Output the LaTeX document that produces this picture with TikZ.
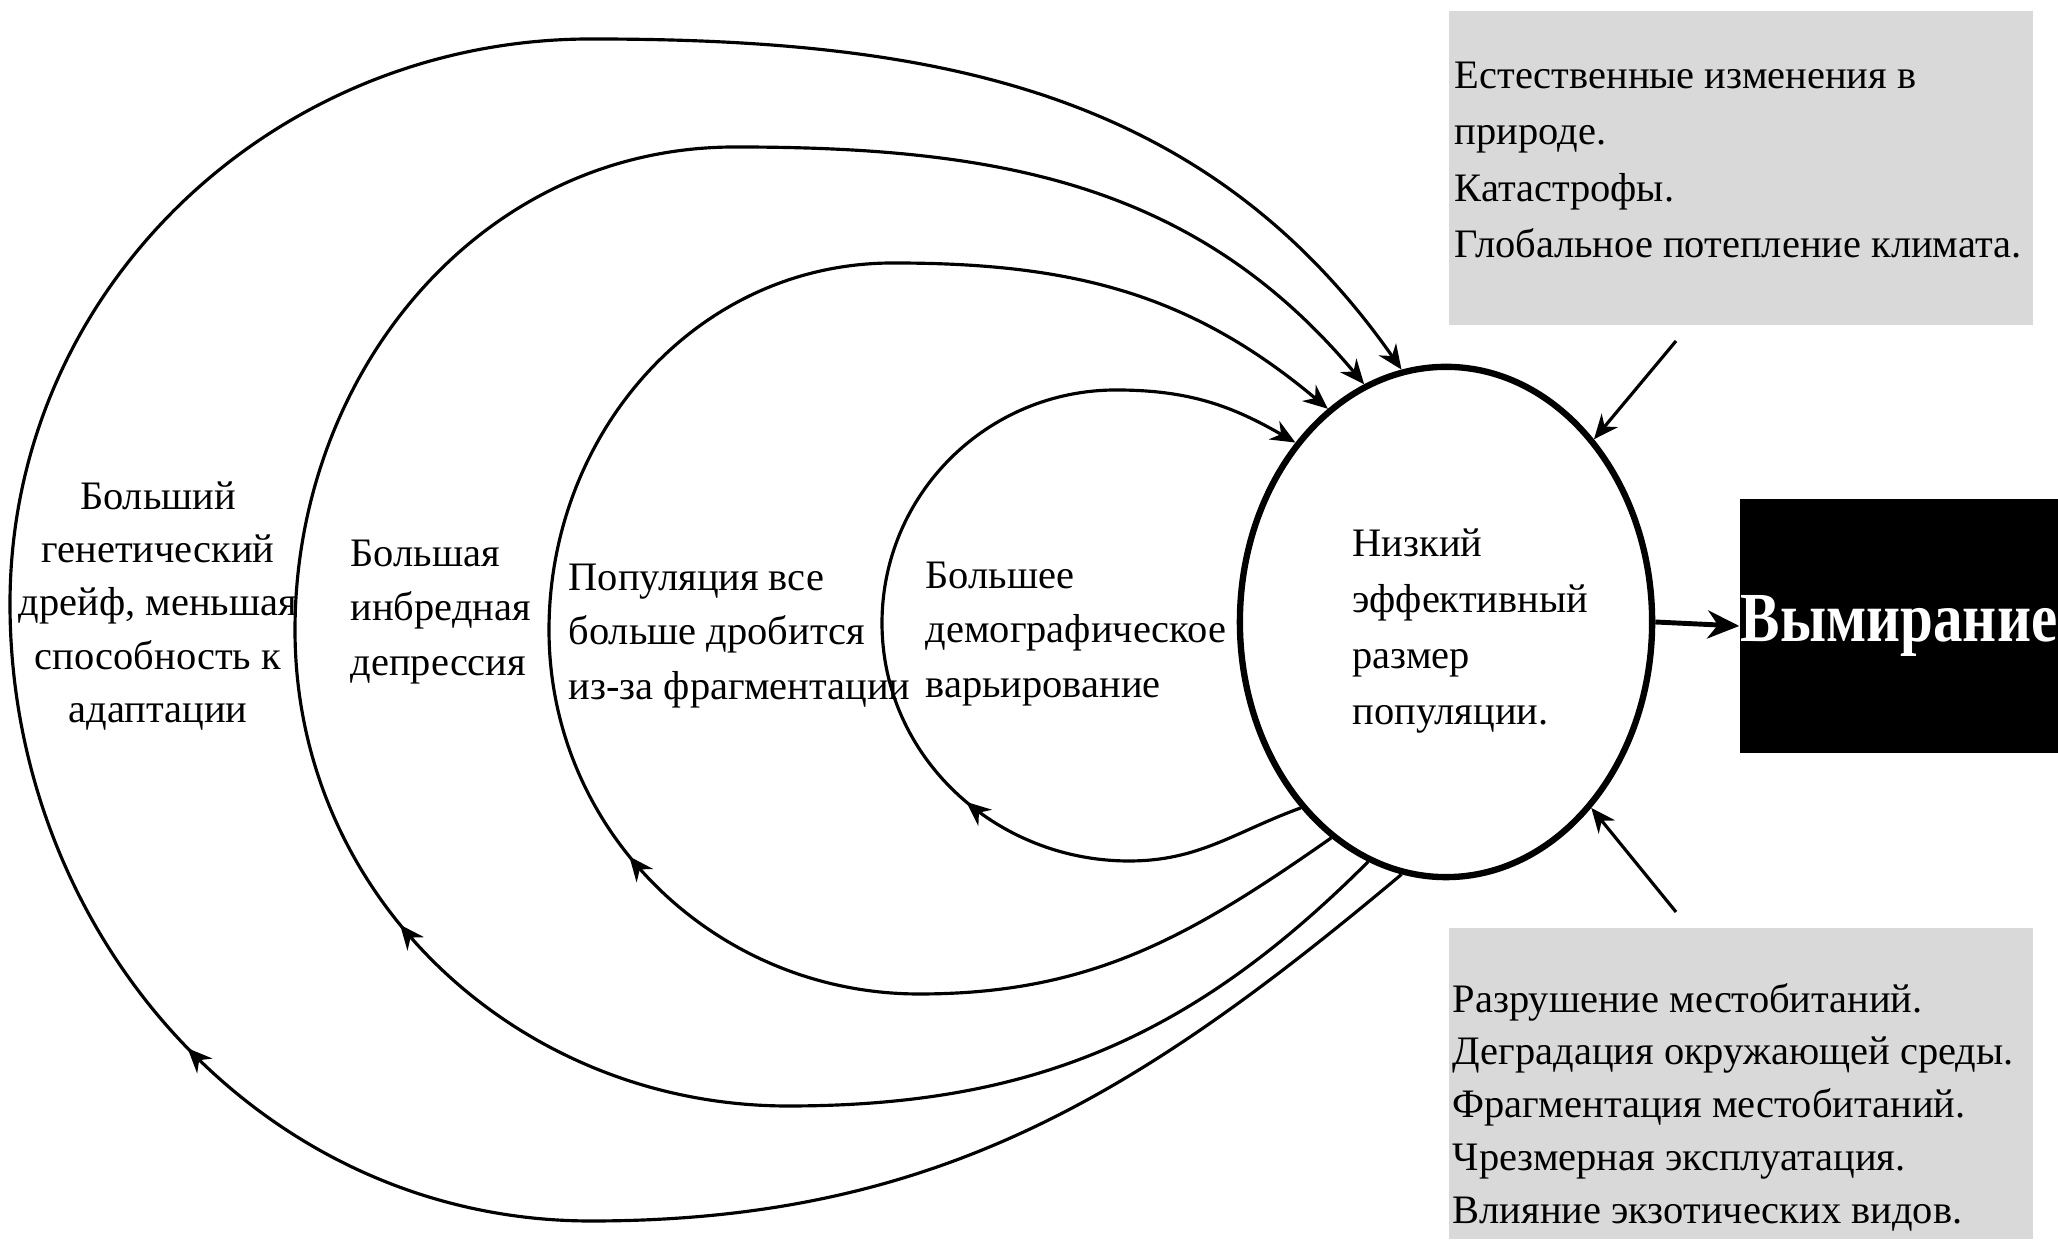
\documentclass[tikz,border=0pt]{standalone}
\usepackage{fontspec}
\setmainfont{Liberation Serif}
\usetikzlibrary{positioning,
				shapes.geometric,
				decorations.markings,
				arrows.meta}
\definecolor{boxgray}{RGB}{217,217,217}
\tikzset{
	feedback/.style={line width=0.9pt, -{Stealth[length=7pt,width=6pt]}},
	midarrow/.style={postaction={decorate,decoration={markings,
		mark=at position #1 with {\arrow{Stealth[length=7pt,width=6pt]}}}}},
	looptxt/.style={inner sep=0pt, align=left, font=\fontsize{11.5}{15.5}\selectfont},
	listbox/.style={fill=boxgray, inner sep=0pt, minimum width=5.84cm},
	listtxt/.style={inner sep=0pt, align=left, font=\fontsize{11.5}{16}\selectfont}
}

\begin{document}
\begin{tikzpicture}[x=0.01cm,y=0.01cm]
	\useasboundingbox (0,0) rectangle (2058,1240);

	% centre and outcome
	\node[draw, ellipse, line width=1.8pt, minimum width=4.12cm, minimum height=5.1cm] (pop) at (1446,618) {};
	\node[looptxt, font=\fontsize{11.5}{16}\selectfont, anchor=west] (poptxt) at (1352,609)
		{Низкий\\эффективный\\размер\\популяции.};
	\node[fill=black, minimum width=3.18cm, minimum height=2.54cm, inner sep=0pt,
		text=white, font=\bfseries\fontsize{20}{24}\selectfont] (ext) at (1899,614)
		{\scalebox{0.84}[1]{Вымирание}};
	\draw[line width=1.4pt, -{Stealth[length=9pt,width=8pt]}] (pop.east) -- (ext.west);

	% outside causes
	\node[listbox, minimum height=3.14cm, anchor=north west] (natbox) at (1448,1230) {};
	\node[listtxt, anchor=west] (nattxt) at (1454,1080)
		{Естественные изменения в\\природе.\\Катастрофы.\\Глобальное потепление климата.};
	\node[listbox, minimum height=3.11cm, anchor=south west] (humbox) at (1448,0) {};
	\node[listtxt, font=\fontsize{11.5}{15}\selectfont, anchor=west] (humtxt) at (1452,133)
		{Разрушение местобитаний.\\Деградация окружающей среды.\\Фрагментация местобитаний.\\Чрезмерная эксплуатация.\\Влияние экзотических видов.};
	\coordinate (natfrom) at (1676,899);
	\coordinate (humfrom) at (1676,328);
	\draw[feedback] (natfrom) -- (pop.51);
	\draw[feedback] (humfrom) -- (pop.-52);

	% feedback loops
	\draw[feedback, midarrow=0.32] (pop.232) to[out=200,in=0] (1129,379)
		to[out=180,in=270] (882,617) to[out=90,in=180] (1116,850) to[out=0,in=150] (pop.130);
	\draw[feedback, midarrow=0.38] (pop.242) to[out=215,in=0] (919,246)
		to[out=180,in=270] (549,610) to[out=90,in=180] (893,977) to[out=0,in=140] (pop.119);
	\draw[feedback, midarrow=0.385] (pop.252) to[out=225,in=0] (788,134)
		to[out=180,in=270] (295,610) to[out=90,in=180] (735,1093) to[out=0,in=130] (pop.109);
	\draw[feedback, midarrow=0.37] (pop.260) to[out=220,in=0] (591,19)
		to[out=180,in=270] (10,636) to[out=90,in=180] (591,1201) to[out=0,in=125] (pop.100);

	\node[looptxt, anchor=west] (demog) at (925,606) {Большее\\демографическое\\варьирование};
	\node[looptxt, anchor=west] (frag) at (568,604) {Популяция все\\больше дробится\\из-за фрагментации};
	\node[looptxt, anchor=west] (inbr) at (350,628) {Большая\\инбредная\\депрессия};
	\node[looptxt, align=center, font=\fontsize{11.5}{15.2}\selectfont] (drift) at (158,634)
		{Больший\\генетический\\дрейф, меньшая\\способность к\\адаптации};
\end{tikzpicture}
\end{document}
